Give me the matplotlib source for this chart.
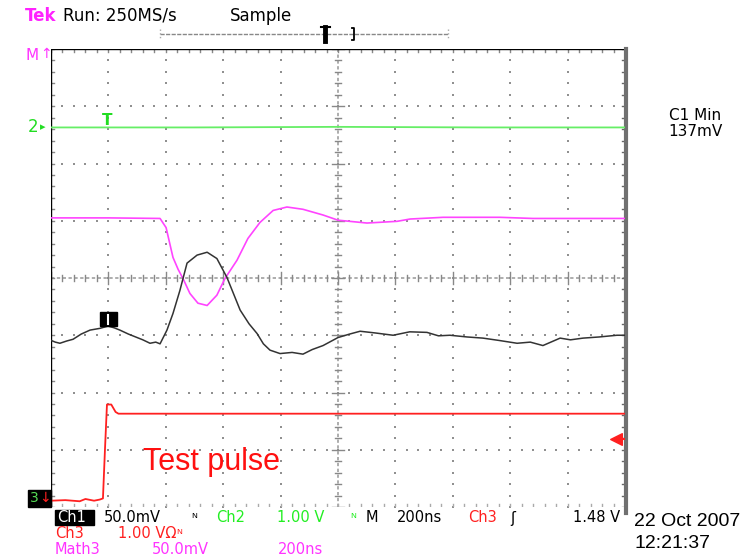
import matplotlib
matplotlib.use("Agg")
import matplotlib.pyplot as plt
from matplotlib.patches import Rectangle

# Screen traces: time in ns (200 ns/div, trigger at centre), level in divisions
green_t = [-1000, -500, 0, 500, 1000]
green_y = [2.63, 2.63, 2.64, 2.63, 2.63]

math_t = [-1000, -800, -620, -599, -587, -575, -557, -540, -516, -488, -456,
          -422, -394, -352, -314, -272, -226, -178, -122, -52, 0, 101, 206,
          251, 366, 564, 679, 1000]
math_y = [1.05, 1.05, 1.04, 0.88, 0.62, 0.36, 0.15, -0.01, -0.27, -0.44, -0.48,
          -0.30, -0.01, 0.31, 0.69, 0.97, 1.18, 1.24, 1.20, 1.10, 1.01, 0.96,
          0.99, 1.03, 1.06, 1.06, 1.04, 1.04]

ch1_t = [-1000, -985, -969, -945, -923, -895, -864, -830, -801, -780, -760,
         -730, -700, -680, -655, -635, -620, -596, -575, -551, -526, -491,
         -456, -422, -387, -341, -310, -282, -260, -237, -202, -160, -122,
         -90, -52, 0, 40, 77, 130, 192, 250, 310, 350, 390, 450, 505, 560,
         624, 670, 714, 774, 810, 854, 910, 972, 1000]
ch1_y = [-1.09, -1.12, -1.14, -1.10, -1.07, -0.98, -0.91, -0.88, -0.84, -0.87,
         -0.91, -0.98, -1.04, -1.08, -1.14, -1.12, -1.15, -0.91, -0.62, -0.22,
         0.26, 0.40, 0.45, 0.34, 0.01, -0.56, -0.80, -0.97, -1.15, -1.26,
         -1.32, -1.30, -1.33, -1.25, -1.18, -1.04, -0.98, -0.93, -0.96, -1.00,
         -0.94, -0.95, -1.01, -1.00, -1.03, -1.05, -1.09, -1.14, -1.12, -1.18,
         -1.05, -1.08, -1.05, -1.03, -1.00, -1.00]

ch3_t = [-1000, -950, -900, -880, -850, -830, -819, -812, -805, -790, -775,
         -765, -500, 0, 500, 1000]
ch3_y = [-3.89, -3.88, -3.90, -3.86, -3.89, -3.87, -3.85, -3.0, -2.21, -2.21,
         -2.34, -2.37, -2.37, -2.37, -2.37, -2.37]

W, H = 751, 557
fig = plt.figure(figsize=(W / 100, H / 100), dpi=100)
fig.patch.set_facecolor("white")
ax = fig.add_axes([51 / W, 50 / H, 574 / W, 458 / H])
ax.set_xlim(-1000, 1000)
ax.set_ylim(-4, 4)
ax.axis("off")

grid_c = "#909090"
# dotted graticule
for k in range(-4, 5):
    if k == 0:
        continue
    xs = [k * 200] * 41
    ys = [-4 + 0.2 * j for j in range(41)]
    ax.scatter(xs, ys, s=1.2, marker="s", color=grid_c, linewidths=0)
for k in range(-3, 4):
    if k == 0:
        continue
    xs = [-1000 + 40 * j for j in range(51)]
    ax.scatter(xs, [k] * 51, s=1.2, marker="s", color=grid_c, linewidths=0)

# centre crosshair with minor ticks
ax.plot([-1000, 1000], [0, 0], color="#a0a0a0", lw=1.2, ls=(0, (2, 1.5)))
ax.plot([0, 0], [-4, 4], color="#a0a0a0", lw=1.2, ls=(0, (2, 1.5)))
for j in range(51):
    x = -1000 + 40 * j
    L = 0.1 if j % 5 == 0 else 0.06
    ax.plot([x, x], [-L, L], color="#888888", lw=1)
for j in range(41):
    y = -4 + 0.2 * j
    L = 20 if j % 5 == 0 else 12
    ax.plot([-L, L], [y, y], color="#888888", lw=1)
    # ticks on left and right edges
    ax.plot([-1000, -990], [y, y], color="#888888", lw=1)
    ax.plot([990, 1000], [y, y], color="#666666", lw=1)
for j in range(51):
    x = -1000 + 40 * j
    ax.plot([x, x], [4, 3.94], color="#888888", lw=1)
    ax.plot([x, x], [-4, -3.94], color="#aaaaaa", lw=1)

# frame
ax.plot([-1000, -1000], [-4, 4], color="black", lw=1)
ax.plot([-1000, 1000], [4, 4], color="black", lw=1)
ax.plot([1002, 1002], [-4.1, 4.0], color="#707070", lw=3, clip_on=False)

# traces
ax.plot(green_t, green_y, color="#66ee66", lw=1.3)
ax.plot(math_t, math_y, color="#ff44ff", lw=1.2)
ax.plot(ch1_t, ch1_y, color="#333333", lw=1.1)
ax.plot(ch3_t, ch3_y, color="#ff2020", lw=1.3)

# on-screen markers
ax.text(-805, 2.62, "T", color="#22dd22", fontsize=11, fontweight="bold",
        ha="center", va="bottom")
ax.add_patch(Rectangle((-830, -0.83), 60, 0.23, color="black", zorder=5))
ax.plot([-800, -800], [-0.8, -0.64], color="white", lw=1.5, zorder=6)
ax.plot([965, 1000], [-2.82, -2.82], color="#ff2020", lw=1.5)
ax.scatter([968], [-2.82], marker="<", s=70, color="#ff2020", zorder=6)
ax.text(-679, -3.22, "Test pulse", color="#ff1010", fontsize=22,
        family="Liberation Sans", ha="left", va="center")

# left-side channel markers
fig.text(25 / W, 1 - 55 / H, "M", color="#ff33ff", fontsize=11, va="center")
fig.text(40 / W, 1 - 54 / H, "↑", color="#ff33ff", fontsize=10, va="center")
fig.text(28 / W, 1 - 127 / H, "2", color="#22dd22", fontsize=12, va="center")
fig.text(40 / W, 1 - 127 / H, "▸", color="#22dd22", fontsize=8, va="center")
fig.patches.append(Rectangle((28 / W, 1 - 507 / H), 23 / W, 17 / H,
                             transform=fig.transFigure, color="black"))
fig.text(30 / W, 1 - 498 / H, "3", color="#55dd55", fontsize=10, va="center")
fig.text(39 / W, 1 - 498 / H, "↓", color="#ff2020", fontsize=10, va="center")

# header
fig.text(25 / W, 1 - 16 / H, "Tek", color="#ff22ff", fontsize=12,
         fontweight="bold", va="center")
fig.text(63 / W, 1 - 16 / H, "Run: 250MS/s", color="black", fontsize=12,
         va="center")
fig.text(230 / W, 1 - 16 / H, "Sample", color="black", fontsize=12,
         va="center")
bar = fig.add_axes([0, 0, 1, 1], facecolor="none")
bar.set_xlim(0, W)
bar.set_ylim(H, 0)
bar.axis("off")
bar.plot([160, 448], [34, 34], color="#888888", lw=1, ls=(0, (3, 1)))
bar.plot([160, 160], [29, 39], color="#aaaaaa", lw=1, ls=":")
bar.plot([448, 448], [29, 39], color="#aaaaaa", lw=1, ls=":")
bar.plot([325, 325], [27, 41], color="black", lw=3.5)
bar.plot([321, 330], [27, 27], color="black", lw=1.5)
bar.plot([352, 354, 354, 352], [28, 28, 40, 40], color="black", lw=1.3)

# right readout
fig.text(695 / W, 1 - 115 / H, "C1 Min", color="black", fontsize=11,
         ha="center", va="center")
fig.text(695 / W, 1 - 132 / H, "137mV", color="black", fontsize=11,
         ha="center", va="center")

# bottom readout
r1, r2, r3 = 1 - 518 / H, 1 - 534 / H, 1 - 549 / H
fs = 10.5
fig.patches.append(Rectangle((55 / W, 1 - 525 / H), 39 / W, 15 / H,
                             transform=fig.transFigure, color="black"))
fig.text(57 / W, r1, "Ch1", color="white", fontsize=fs, va="center")
fig.text(104 / W, r1, "50.0mV", color="black", fontsize=fs, va="center")
fig.text(191 / W, r1, "ᴺ", color="black", fontsize=9, va="center")
fig.text(216 / W, r1, "Ch2", color="#22ee22", fontsize=fs, va="center")
fig.text(277 / W, r1, "1.00 V", color="#22ee22", fontsize=fs, va="center")
fig.text(350 / W, r1, "ᴺ", color="#22ee22", fontsize=9, va="center")
fig.text(366 / W, r1, "M", color="black", fontsize=fs, va="center")
fig.text(397 / W, r1, "200ns", color="black", fontsize=fs, va="center")
fig.text(468 / W, r1, "Ch3", color="#ff2020", fontsize=fs, va="center")
fig.text(510 / W, r1, "ʃ", color="black", fontsize=fs, va="center")
fig.text(620 / W, r1, "1.48 V", color="black", fontsize=fs, ha="right",
         va="center")
fig.text(55 / W, r2, "Ch3", color="#ff2020", fontsize=fs, va="center")
fig.text(118 / W, r2, "1.00 VΩ", color="#ff2020", fontsize=fs, va="center")
fig.text(176 / W, r2, "ᴺ", color="#ff2020", fontsize=9, va="center")
fig.text(55 / W, r3, "Math3", color="#ff33ff", fontsize=fs, va="center")
fig.text(152 / W, r3, "50.0mV", color="#ff33ff", fontsize=fs, va="center")
fig.text(278 / W, r3, "200ns", color="#ff33ff", fontsize=fs, va="center")
fig.text(634 / W, 1 - 521 / H, "22 Oct 2007", color="black", fontsize=14,
         family="Liberation Sans", va="center")
fig.text(634 / W, 1 - 543 / H, "12:21:37", color="black", fontsize=14,
         family="Liberation Sans", va="center")

fig.savefig("out.png", dpi=100)
